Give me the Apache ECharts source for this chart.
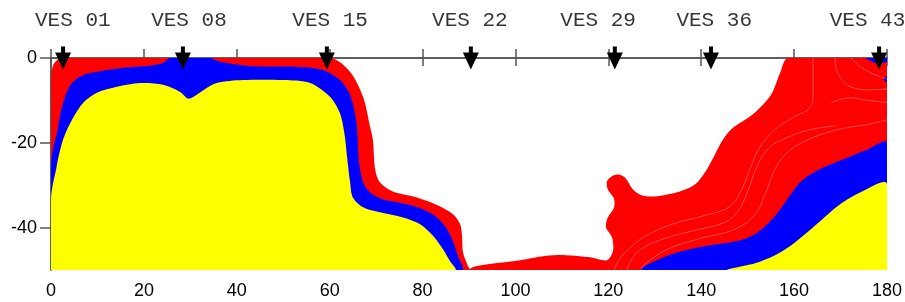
<!DOCTYPE html>
<html>
<head>
<meta charset="utf-8">
<script src="https://cdn.jsdelivr.net/npm/echarts@6.0.0/dist/echarts.min.js"></script>
<style>
  html, body { margin: 0; padding: 0; background: #fff; }
  #chart { width: 905px; height: 302px; }
</style>
</head>
<body>
<div id="chart"></div>
<script>
// VES stations along the profile (distance in m)
const vesNames = ['VES 01', 'VES 08', 'VES 15', 'VES 22', 'VES 29', 'VES 36', 'VES 43'];
const vesX = [2.6, 28.4, 59.4, 90.4, 121.4, 142.1, 178.3];
const vesLabelX = [4.7, 29.7, 60.1, 90.2, 117.8, 142.8, 175.8];

const depthTicks = [0, -20, -40];

// outlines of the resistivity zones, [distance, depth]
const redLeft = [[0,-4.7],[0.4,-1.9],[1.3,-0.5],[2.2,0],[60.1,0],[64.4,-3.3],[67.2,-9.2],[68.7,-16.2],
  [69.3,-19.2],[69.8,-26.3],[70.8,-29.3],[73.6,-31.5],[78.8,-32.9],[83.8,-35.0],[86.6,-36.9],
  [88.1,-39.2],[88.5,-42.0],[88.7,-45.8],[89.8,-49.1],[90.2,-50],[0,-50]];
const blueLeft = [[0,-25.8],[0.4,-21.6],[1.3,-17.6],[1.9,-13.8],[3.0,-9.2],[4.5,-5.9],[6.9,-4.0],
  [10.6,-3.1],[15.5,-2.3],[20.7,-1.9],[24.1,-1.2],[25.6,0],[34.2,0],[36.4,-0.9],[42.9,-1.9],
  [53.6,-2.1],[58.4,-2.8],[62.2,-5.2],[64.4,-8.7],[65.7,-14.6],[66.1,-20.5],[66.3,-24.5],
  [67.2,-29.3],[68.7,-31.7],[71.5,-33.3],[76.7,-34.5],[80.1,-35.7],[83.1,-37.6],[85.3,-40.4],
  [86.6,-43.4],[87.6,-46.7],[88.5,-50],[0,-50]];
const yellowLeft = [[0,-33.3],[0.4,-29.8],[1.1,-26.3],[1.5,-23.9],[2.6,-19.2],[4.5,-14.6],[6.9,-10.6],
  [9.9,-8.2],[14.2,-6.8],[19.2,-5.9],[24.1,-6.3],[27.8,-8.0],[29.5,-9.6],[30.6,-9.2],[33.2,-7.3],
  [35.7,-5.9],[41.3,-5.2],[50.0,-5.2],[55.8,-5.9],[60.1,-9.2],[62.2,-13.0],[63.2,-18.0],
  [63.8,-23.9],[64.4,-29.3],[65.0,-32.9],[67.2,-35.2],[70.8,-36.4],[75.8,-37.6],[79.5,-39.2],
  [82.3,-42.0],[84.4,-45.1],[85.9,-47.9],[87.0,-50],[0,-50]];
const redRight = [[90.2,-50],[90.9,-49.3],[94.5,-48.6],[101.0,-47.7],[106.4,-46.7],[110.7,-46.5],
  [116.1,-47.0],[119.7,-47.7],[121.0,-45.5],[120.8,-42.3],[119.5,-39.9],[119.9,-37.6],[121.2,-35.4],
  [121.2,-33.1],[119.9,-31.0],[119.7,-29.1],[120.8,-27.9],[122.1,-27.5],[123.6,-28.2],[125.3,-31.0],
  [127.3,-32.4],[130.5,-32.6],[135.4,-31.5],[138.7,-29.8],[140.8,-27.0],[142.6,-23.5],[144.7,-19.2],
  [146.9,-16.4],[150.5,-13.8],[153.3,-11.0],[155.3,-8.2],[157.0,-3.5],[158.7,0],[180,0],[180,-50]];
const blueRight = [[127.3,-50],[132.6,-46.7],[139.8,-44.6],[148.4,-43.0],[152.2,-41.1],[155.3,-38.0],
  [158.1,-34.0],[161.3,-29.3],[164.5,-26.8],[169.9,-24.2],[175.3,-21.8],[180,-20.0],[180,-50]];
const yellowRight = [[145.8,-50],[151.6,-48.4],[155.9,-46.5],[159.1,-44.4],[162.4,-41.5],[165.6,-38.5],
  [169.9,-34.5],[174.2,-31.7],[180,-29.6],[180,-50]];
const blueCorner = [[175.3,0],[180,0],[180,-1.0],[177.6,-1.3]];
const blueSpot = [[180,-4.2],[179.2,-5.0],[180,-5.9]];

// faint isolines inside the right-hand red zone
const isoRed1 = [[164.1,0],[164.1,-8.2],[163.4,-11.7],[159.6,-14.1],[155.7,-17.1],[152.7,-20.9],
  [150.5,-26.1],[148.8,-30.8],[146.2,-35.0],[140.2,-37.3],[133.7,-39.2],[127.3,-42.5],[122.9,-46.7],[121.2,-50]];
const isoRed2 = [[169.0,-16.0],[163.5,-16.9],[158.4,-18.8],[154.6,-21.2],[152.0,-25.6],[150.0,-31.5],
  [148.0,-36.0],[145.0,-38.8],[138.0,-40.8],[131.0,-43.0],[126.0,-46.0],[124.0,-50]];
const isoRed3 = [[180,-14.6],[175.7,-15.7],[171.5,-16.4],[166.5,-17.8],[162.0,-19.8],[158.5,-22.3],
  [156.0,-26.0],[154.0,-31.5],[151.5,-37.0],[147.0,-40.5],[140.0,-42.5],[133.0,-45.0],[128.0,-48.5],[127.0,-50]];
const isoRed4 = [[168.8,0],[169.4,-3.5],[172.2,-6.8],[176.5,-7.5],[180,-7.3]];
const isoRed5 = [[172.2,0],[175.3,-2.8],[180,-5.0]];
const isoRed6 = [[180,-10.5],[176.0,-10.0],[172.0,-9.4],[168.0,-10.5]];

const chart = echarts.init(document.getElementById('chart'));

// one filled polygon per zone, mapped through the axes
function zone(points, color, smooth) {
  return {
    type: 'custom',
    coordinateSystem: 'cartesian2d',
    clip: true,
    silent: true,
    data: points,
    encode: { x: 0, y: 1 },
    renderItem: function (params, api) {
      if (params.dataIndex !== 0) return null;
      return {
        type: 'polygon',
        shape: { points: points.map(p => api.coord(p)), smooth: smooth },
        style: { fill: color }
      };
    }
  };
}

function isoline(points) {
  return {
    type: 'line',
    silent: true,
    symbol: 'none',
    smooth: 0.4,
    clip: true,
    data: points,
    lineStyle: { color: 'rgba(255,255,255,0.3)', width: 1 },
    z: 3
  };
}

const axisLineStyle = { color: '#555', width: 1.5 };
const labelFont = { fontFamily: 'Liberation Sans', fontSize: 18, color: '#000' };

const option = {
  animation: false,
  backgroundColor: '#fff',
  grid: { left: 51, right: 18, top: 58, bottom: 32 },
  xAxis: [{
    type: 'value', position: 'bottom', min: 0, max: 180, interval: 20,
    axisLine: { show: true, lineStyle: axisLineStyle },
    axisTick: { show: true, length: 8, lineStyle: axisLineStyle },
    axisLabel: Object.assign({ margin: 12 }, labelFont),
    splitLine: { show: false }
  }, {
    type: 'value', position: 'top', min: 0, max: 180, interval: 20,
    axisLine: { show: true, lineStyle: axisLineStyle },
    axisTick: { show: true, length: 9, lineStyle: axisLineStyle },
    axisLabel: { show: false },
    splitLine: { show: false }
  }],
  yAxis: [{
    type: 'value', position: 'left', min: -50, max: 0,
    axisLine: { show: true, lineStyle: axisLineStyle },
    axisTick: { show: true, length: 11, lineStyle: axisLineStyle, customValues: depthTicks },
    axisLabel: Object.assign({ margin: 14, customValues: depthTicks }, labelFont),
    splitLine: { show: false }
  }, {
    type: 'value', position: 'right', min: -50, max: 0,
    axisLine: { show: true, lineStyle: axisLineStyle },
    axisTick: { show: true, length: 10, lineStyle: axisLineStyle, customValues: depthTicks },
    axisLabel: { show: false, customValues: depthTicks },
    splitLine: { show: false }
  }],
  series: [
    zone(redLeft, '#ff0000', 0.3),
    zone(blueLeft, '#0000ff', 0.3),
    zone(yellowLeft, '#ffff00', 0.3),
    zone(redRight, '#ff0000', 0.3),
    isoline(isoRed1),
    isoline(isoRed2),
    isoline(isoRed3),
    isoline(isoRed4),
    isoline(isoRed5),
    isoline(isoRed6),
    zone(blueRight, '#0000ff', 0.3),
    zone(yellowRight, '#ffff00', 0.3),
    zone(blueCorner, '#0000ff', 0),
    zone(blueSpot, '#0000ff', 0),
    {
      type: 'scatter',
      clip: false,
      silent: true,
      symbol: 'path://M6,0 L10,0 L10,6 L16,6 L8,23 L0,6 L6,6 Z',
      symbolSize: [16, 23],
      itemStyle: { color: '#000', opacity: 1 },
      data: vesX.map(x => [x, 0]),
      z: 10
    },
    {
      type: 'scatter',
      clip: false,
      silent: true,
      symbol: 'circle',
      symbolSize: 1,
      itemStyle: { color: 'rgba(0,0,0,0)' },
      data: vesLabelX.map((x, i) => ({ value: [x, 0], name: vesNames[i] })),
      label: {
        show: true,
        position: 'inside',
        offset: [0, -38],
        formatter: p => p.name,
        fontFamily: 'Liberation Mono',
        fontSize: 21,
        color: '#000'
      },
      z: 10
    }
  ]
};

chart.setOption(option);
window.addEventListener('resize', () => {
  chart.resize();
});
</script>
</body>
</html>
